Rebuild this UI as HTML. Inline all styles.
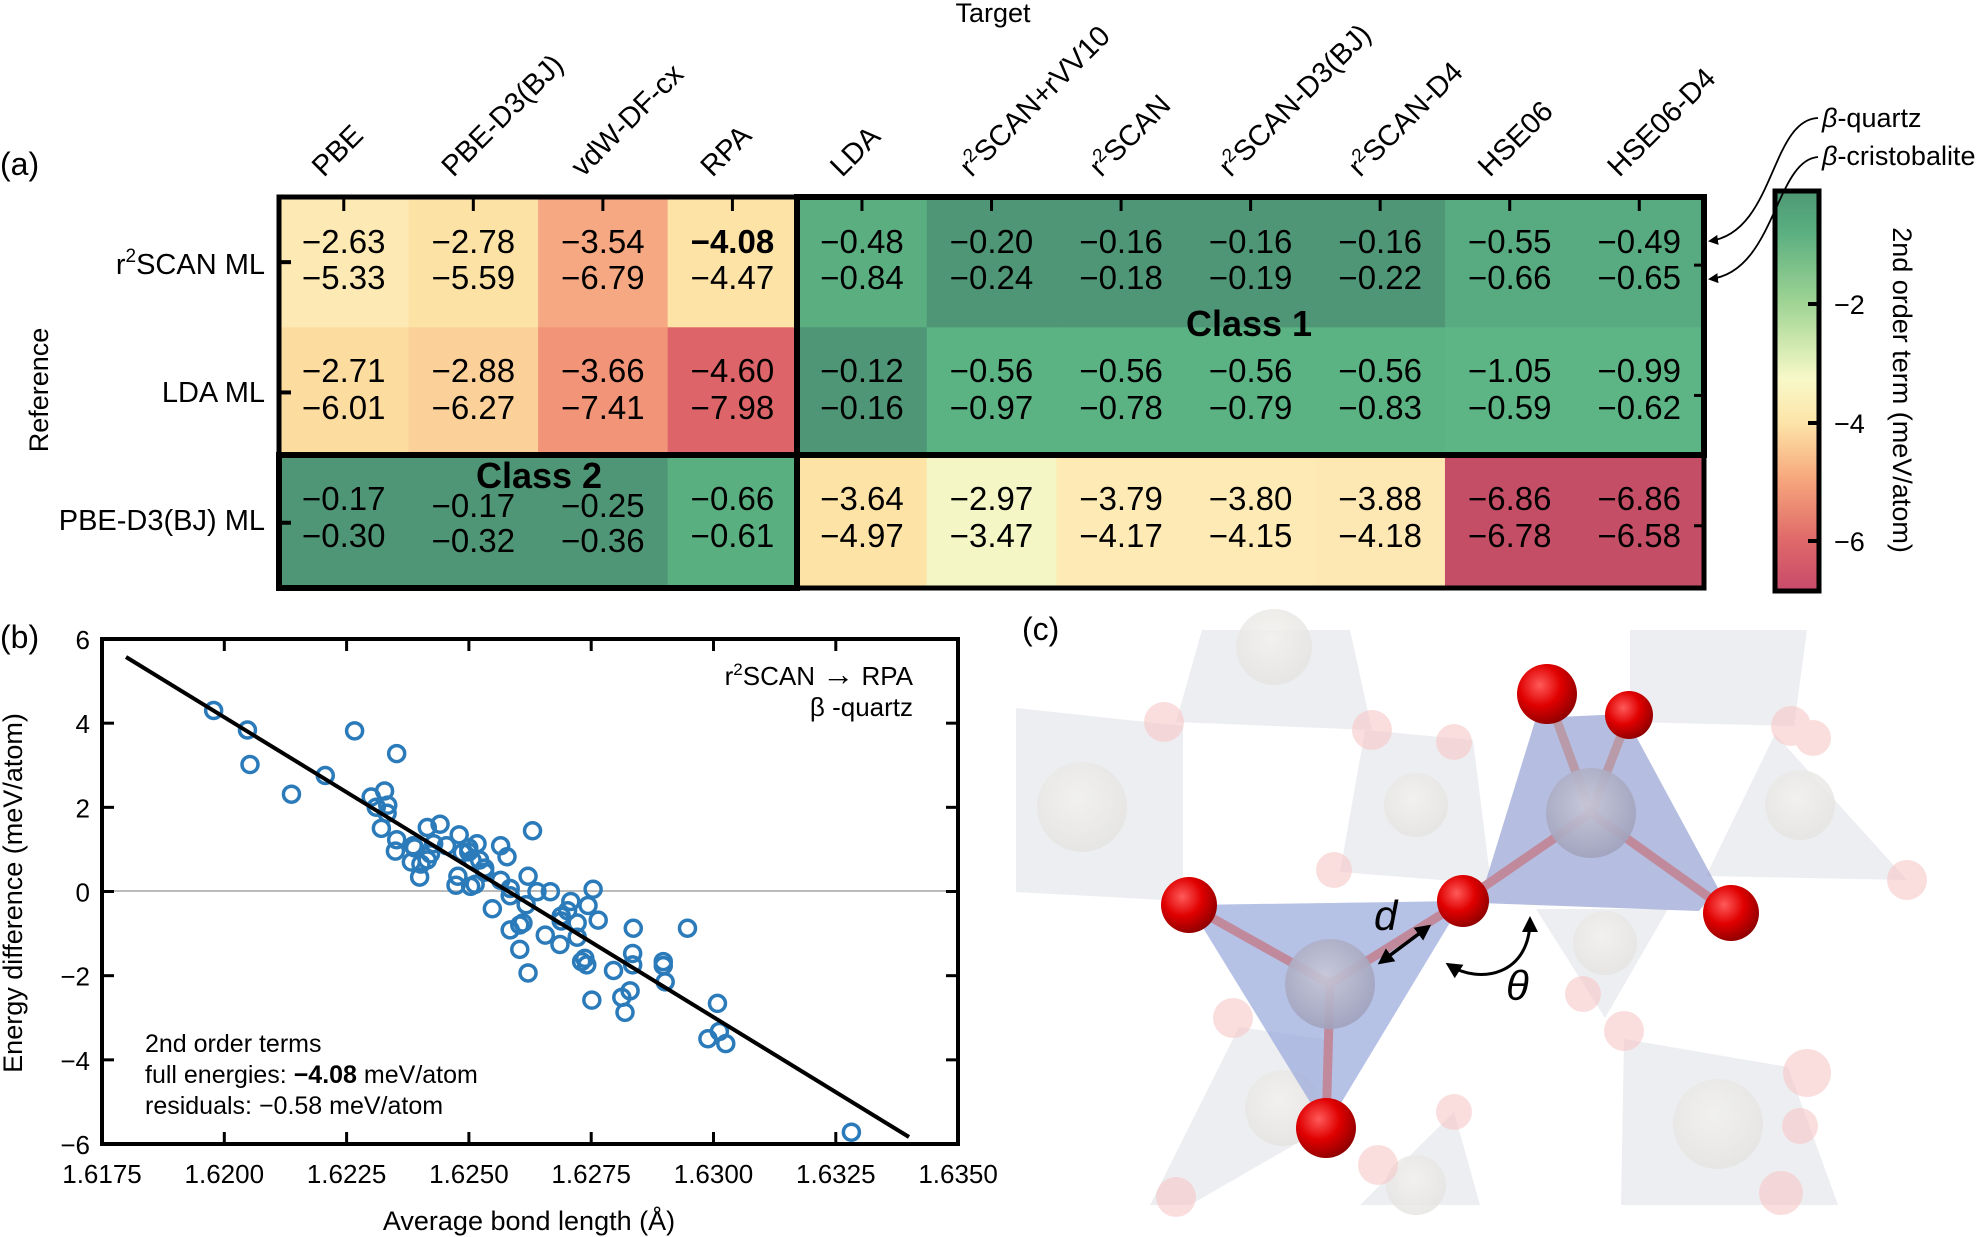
<!DOCTYPE html>
<html><head><meta charset="utf-8"><style>
html,body{margin:0;padding:0;background:#fff}
svg{display:block;font-family:"Liberation Sans",sans-serif}
</style></head><body>
<svg id="s" width="1988" height="1237" viewBox="0 0 1988 1237" xmlns="http://www.w3.org/2000/svg">
<defs>
<linearGradient id="cb" x1="0" y1="0" x2="0" y2="1">
<stop offset="0" stop-color="#4d9874"/><stop offset="0.1" stop-color="#5aae80"/>
<stop offset="0.28" stop-color="#9fd494"/><stop offset="0.47" stop-color="#f8f9c8"/>
<stop offset="0.58" stop-color="#fde4a8"/><stop offset="0.72" stop-color="#f7a77c"/>
<stop offset="0.87" stop-color="#df6a6a"/><stop offset="1" stop-color="#c84a6a"/>
</linearGradient>
<radialGradient id="red" cx="0.38" cy="0.35" r="0.7"><stop offset="0" stop-color="#ff5a5a"/><stop offset="0.5" stop-color="#e00000"/><stop offset="1" stop-color="#8a0000"/></radialGradient>
<radialGradient id="si" cx="0.45" cy="0.4" r="0.7"><stop offset="0" stop-color="#c8c8d8"/><stop offset="1" stop-color="#9a9cb8"/></radialGradient>
<radialGradient id="gh" cx="0.45" cy="0.4" r="0.7"><stop offset="0" stop-color="#f2f1ee"/><stop offset="1" stop-color="#e2e1de"/></radialGradient>
<marker id="ah" markerWidth="10" markerHeight="10" refX="8" refY="5" orient="auto" markerUnits="userSpaceOnUse"><path d="M0,0 L10,5 L0,10 z" fill="#000"/></marker>
<marker id="ah2" markerWidth="16" markerHeight="16" refX="12" refY="8" orient="auto-start-reverse" markerUnits="userSpaceOnUse"><path d="M0,0 L16,8 L0,16 z" fill="#000"/></marker>
</defs>
<g id="hm"></g>
<text x="993" y="22" font-size="27" text-anchor="middle">Target</text>
<text x="0" y="175" font-size="32">(a)</text>
<text transform="translate(48,390) rotate(-90)" font-size="27" text-anchor="middle">Reference</text>
<text x="265" y="274" font-size="29" text-anchor="end">r<tspan font-size="19" dy="-12">2</tspan><tspan dy="12">SCAN ML</tspan></text>
<text x="265" y="402" font-size="29" text-anchor="end">LDA ML</text>
<text x="265" y="530" font-size="29" text-anchor="end">PBE-D3(BJ) ML</text>
<text x="1249" y="336" font-size="36" font-weight="bold" text-anchor="middle">Class 1</text>
<text x="539" y="488" font-size="36" font-weight="bold" text-anchor="middle">Class 2</text>
<rect x="1775" y="191" width="44" height="400" fill="url(#cb)" stroke="#000" stroke-width="5"/>
<g stroke="#000" stroke-width="4"><line x1="1808" y1="304" x2="1819" y2="304"/><line x1="1808" y1="423" x2="1819" y2="423"/><line x1="1808" y1="541" x2="1819" y2="541"/></g>
<g font-size="27"><text x="1834" y="314">−2</text><text x="1834" y="433">−4</text><text x="1834" y="551">−6</text></g>
<text transform="translate(1893,390) rotate(90)" font-size="27" text-anchor="middle">2nd order term (meV/atom)</text>
<text x="1822" y="127" font-size="27"><tspan font-style="italic">β</tspan>-quartz</text>
<text x="1822" y="165" font-size="27"><tspan font-style="italic">β</tspan>-cristobalite</text>
<path d="M1818,118 C1770,120 1775,232 1710,241" fill="none" stroke="#000" stroke-width="1.8" marker-end="url(#ah)"/>
<path d="M1818,157 C1775,160 1775,272 1710,279" fill="none" stroke="#000" stroke-width="1.8" marker-end="url(#ah)"/>

<!-- panel b -->
<text x="0" y="648" font-size="32">(b)</text>
<line x1="102" y1="891" x2="958" y2="891" stroke="#bbb" stroke-width="2"/>
<g id="pts"></g>
<line x1="126" y1="657" x2="909" y2="1137" stroke="#000" stroke-width="4"/>
<rect x="102" y="639" width="856" height="505" fill="none" stroke="#000" stroke-width="4"/>
<g id="ax"></g>
<text x="913" y="685" font-size="26" text-anchor="end">r<tspan font-size="17" dy="-10">2</tspan><tspan dy="10">SCAN </tspan><tspan font-size="32">→</tspan> RPA</text>
<text x="913" y="716" font-size="26" text-anchor="end">β -quartz</text>
<text x="145" y="1052" font-size="25">2nd order terms</text>
<text x="145" y="1083" font-size="25">full energies: <tspan font-weight="bold">−4.08</tspan> meV/atom</text>
<text x="145" y="1114" font-size="25">residuals: −0.58 meV/atom</text>
<text x="529" y="1230" font-size="27" text-anchor="middle">Average bond length (Å)</text>
<text transform="translate(22,893) rotate(-90)" font-size="27" text-anchor="middle">Energy difference (meV/atom)</text>

<!-- panel c -->
<g fill="#dfe0e6" fill-opacity="0.55">
<polygon points="1016,708 1183,726 1183,901 1016,892"/>
<polygon points="1202,630 1350,630 1372,730 1176,722"/>
<polygon points="1630,630 1807,630 1794,726 1630,722"/>
<polygon points="1775,734 1907,880 1706,876"/>
<polygon points="1624,1039 1788,1067 1838,1205 1621,1205"/>
<polygon points="1239,1027 1330,1040 1320,1130 1190,1205 1150,1205"/>
<polygon points="1365,730 1473,740 1491,884 1340,872"/>
<polygon points="1536,909 1668,909 1605,1018"/>
<polygon points="1360,1205 1454,1112 1480,1205"/>
</g>
<g fill="url(#gh)" opacity="0.8">
<circle cx="1082" cy="807" r="45"/><circle cx="1274" cy="647" r="38"/><circle cx="1416" cy="805" r="32"/>
<circle cx="1605" cy="943" r="32"/><circle cx="1800" cy="805" r="35"/><circle cx="1718" cy="1124" r="45"/>
<circle cx="1283" cy="1108" r="38"/><circle cx="1416" cy="1185" r="30"/>
</g>
<g fill="#f7c8c8" opacity="0.6">
<circle cx="1164" cy="722" r="20"/><circle cx="1372" cy="730" r="20"/><circle cx="1454" cy="742" r="18"/>
<circle cx="1334" cy="870" r="18"/><circle cx="1791" cy="726" r="20"/><circle cx="1813" cy="738" r="18"/>
<circle cx="1907" cy="880" r="20"/><circle cx="1583" cy="994" r="18"/><circle cx="1624" cy="1031" r="20"/>
<circle cx="1233" cy="1018" r="20"/><circle cx="1807" cy="1073" r="24"/><circle cx="1800" cy="1126" r="18"/>
<circle cx="1454" cy="1112" r="18"/><circle cx="1378" cy="1165" r="20"/><circle cx="1176" cy="1197" r="20"/><circle cx="1781" cy="1193" r="22"/>
</g>
<polygon points="1536,718 1624,714 1718,888 1699,911 1479,903" fill="#8d9bcf" fill-opacity="0.65"/>
<g stroke-width="9" stroke-linecap="round">
<line x1="1591" y1="813" x2="1547" y2="694" stroke="#b89aa8"/><line x1="1591" y1="813" x2="1629" y2="715" stroke="#b89aa8"/>
<line x1="1591" y1="813" x2="1463" y2="901" stroke="#c08a9c"/><line x1="1591" y1="813" x2="1731" y2="913" stroke="#c08a9c"/>
</g>
<circle cx="1591" cy="813" r="45" fill="url(#si)" opacity="0.9"/>
<circle cx="1629" cy="715" r="24" fill="url(#red)"/>
<circle cx="1547" cy="694" r="30" fill="url(#red)"/>
<circle cx="1731" cy="913" r="28" fill="url(#red)"/>
<polygon points="1189,905 1463,901 1326,1128" fill="#97a6dc" fill-opacity="0.7"/>
<g stroke-width="9" stroke-linecap="round">
<line x1="1330" y1="984" x2="1189" y2="905" stroke="#c08a9c"/><line x1="1330" y1="984" x2="1463" y2="901" stroke="#c08a9c"/>
<line x1="1330" y1="984" x2="1326" y2="1128" stroke="#c08a9c"/>
</g>
<circle cx="1330" cy="984" r="45" fill="url(#si)" opacity="0.9"/>
<circle cx="1189" cy="905" r="28" fill="url(#red)"/>
<circle cx="1463" cy="901" r="26" fill="url(#red)"/>
<circle cx="1326" cy="1128" r="30" fill="url(#red)"/>
<line x1="1381" y1="962" x2="1428" y2="927" stroke="#000" stroke-width="3.5" marker-start="url(#ah2)" marker-end="url(#ah2)"/>
<text x="1374" y="930" font-size="42" font-style="italic">d</text>
<path d="M1449,965 C1480,985 1530,975 1530,920" fill="none" stroke="#000" stroke-width="3" marker-start="url(#ah2)" marker-end="url(#ah2)"/>
<text x="1506" y="1000" font-size="42" font-style="italic">θ</text>
<text x="1022" y="640" font-size="32">(c)</text>
</svg>
<script>
const NS="http://www.w3.org/2000/svg";
function el(p,t,a,txt){const e=document.createElementNS(NS,t);for(const k in a)e.setAttribute(k,a[k]);if(txt!=null)e.textContent=txt;p.appendChild(e);return e;}
const hm=document.getElementById('hm');
const L=279,T=197,CW=129.55,RH=130.3;
const cols=["PBE","PBE-D3(BJ)","vdW-DF-cx","RPA","LDA","r2SCAN+rVV10","r2SCAN","r2SCAN-D3(BJ)","r2SCAN-D4","HSE06","HSE06-D4"];
const colors=[
["#fde9b4","#fde2a6","#f5a882","#fde3a6","#5aae80","#4f9676","#4f9676","#4f9676","#4f9676","#58ab80","#58ab80"],
["#fddca0","#fbd199","#f29478","#dd6468","#4f9676","#5bb384","#5bb384","#5bb384","#5bb384","#5db585","#5db585"],
["#4f9676","#4f9676","#4f9676","#5aaf80","#fde3a6","#f4f7c5","#fdeab5","#fdeab5","#fde8b3","#c44e66","#c44e66"]];
const vals=[
[["2.63","5.33"],["2.78","5.59"],["3.54","6.79"],["4.08","4.47"],["0.48","0.84"],["0.20","0.24"],["0.16","0.18"],["0.16","0.19"],["0.16","0.22"],["0.55","0.66"],["0.49","0.65"]],
[["2.71","6.01"],["2.88","6.27"],["3.66","7.41"],["4.60","7.98"],["0.12","0.16"],["0.56","0.97"],["0.56","0.78"],["0.56","0.79"],["0.56","0.83"],["1.05","0.59"],["0.99","0.62"]],
[["0.17","0.30"],["0.17","0.32"],["0.25","0.36"],["0.66","0.61"],["3.64","4.97"],["2.97","3.47"],["3.79","4.17"],["3.80","4.15"],["3.88","4.18"],["6.86","6.78"],["6.86","6.58"]]];
const ys=[[242,278],[371,408],[499,536]];
for(let r=0;r<3;r++)for(let c=0;c<11;c++){
 el(hm,'rect',{x:L+c*CW,y:T+r*RH,width:CW+0.6,height:RH+0.6,fill:colors[r][c]});
}
for(let r=0;r<3;r++)for(let c=0;c<11;c++){
 const cx=L+CW*(c+0.5);let y1=ys[r][0]+11,y2=ys[r][1]+11;
 if(r==2&&(c==1||c==2)){y1+=7;y2+=5;}
 const t=el(hm,'text',{x:cx,y:y1,'font-size':33,'text-anchor':'middle'},'−'+vals[r][c][0]);
 if(r==0&&c==3)t.setAttribute('font-weight','bold');
 el(hm,'text',{x:cx,y:y2,'font-size':33,'text-anchor':'middle'},'−'+vals[r][c][1]);
}
for(let c=0;c<11;c++){
 const cx=L+CW*(c+0.5);
 el(hm,'line',{x1:cx,y1:T,x2:cx,y2:T+14,stroke:'#000','stroke-width':3});
 const g=el(hm,'text',{transform:`translate(${cx-20},178) rotate(-45)`,'font-size':29});
 const n=cols[c];
 if(n.startsWith('r2')){g.textContent='r';el(g,'tspan',{'font-size':19,dy:-11},'2');el(g,'tspan',{dy:11},n.slice(2));}
 else g.textContent=n;
}
for(let r=0;r<3;r++){const cy=T+RH*(r+0.5);
 el(hm,'line',{x1:L,y1:cy,x2:L+12,y2:cy,stroke:'#000','stroke-width':4});
 el(hm,'line',{x1:1704,y1:cy+3,x2:1694,y2:cy+3,stroke:'#000','stroke-width':3});}
el(hm,'rect',{x:L,y:T,width:1425,height:391,fill:'none',stroke:'#000','stroke-width':5});
el(hm,'rect',{x:797,y:T,width:907,height:258,fill:'none',stroke:'#000','stroke-width':6});
el(hm,'rect',{x:L,y:455,width:518,height:133,fill:'none',stroke:'#000','stroke-width':6});
const P=[[335,272],[388,320],[392,405],[457,478],[510,432],[556,322],[622,378],[582,485],[590,510],[603,470],[608,505],[607,525],[598,562],[622,590],[620,618],[648,605],[645,645],[660,650],[658,682],[670,560],[690,552],[675,625],[680,600],[700,605],[720,578],[718,680],[715,702],[725,622],[735,610],[740,640],[738,705],[748,600],[752,640],[760,670],[745,700],[785,605],[795,632],[785,690],[800,710],[800,728],[828,680],[835,568],[842,718],[863,718],[825,750],[772,760],[800,812],[815,800],[820,795],[815,860],[828,918],[855,825],[880,778],[878,848],[895,742],[905,795],[905,830],[922,752],[930,712],[938,788],[993,808],[912,890],[917,882],[920,898],[928,985],[962,912],[975,978],[980,1015],[988,962],[992,870],[992,898],[1040,890],[1040,900],[1043,940],[1078,808],[1125,993],[1128,1062],[1110,1080],[1138,1092],[1335,1310],[760,660],[735,620],[650,610],[670,640],[880,790],[890,765]];
const pg=document.getElementById('pts');
P.forEach(p=>el(pg,'circle',{cx:p[0]/1.568,cy:600+p[1]/2.4615,r:8,fill:'none',stroke:'#2b7bba','stroke-width':3.5}));
const ax=document.getElementById('ax');
const xl=["1.6175","1.6200","1.6225","1.6250","1.6275","1.6300","1.6325","1.6350"];
for(let k=0;k<8;k++){const x=102+122.3*k;
 if(k>0&&k<7){el(ax,'line',{x1:x,y1:1144,x2:x,y2:1132,stroke:'#000','stroke-width':3});el(ax,'line',{x1:x,y1:639,x2:x,y2:651,stroke:'#000','stroke-width':3});}
 el(ax,'text',{x:x,y:1183,'font-size':26,'text-anchor':'middle'},xl[k]);}
const yl=["6","4","2","0","−2","−4","−6"];
for(let k=0;k<7;k++){const y=639+84.17*k;
 if(k>0&&k<6){el(ax,'line',{x1:102,y1:y,x2:114,y2:y,stroke:'#000','stroke-width':3});el(ax,'line',{x1:958,y1:y,x2:946,y2:y,stroke:'#000','stroke-width':3});}
 el(ax,'text',{x:90,y:y+10,'font-size':26,'text-anchor':'end'},yl[k]);}
</script>
</body></html>
